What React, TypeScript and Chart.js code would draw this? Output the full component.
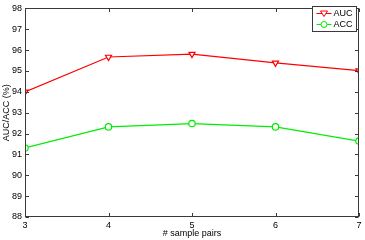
import React, { useEffect, useRef } from "react";
import { Chart, registerables } from "chart.js";

Chart.register(...registerables);

const samplePairs = [3, 4, 5, 6, 7];
const aucValues = [94.0, 95.67, 95.81, 95.39, 95.02];
const accValues = [91.31, 92.32, 92.48, 92.32, 91.64];
const yTicks = [88, 89, 90, 91, 92, 93, 94, 95, 96, 97, 98];
const xTitle = "# sample pairs";
const yTitle = "AUC/ACC (%)";
const seriesNames = ["AUC", "ACC"];

const FONT = "'Liberation Sans', Arial, sans-serif";

const framePlugin = {
  id: "frame",
  afterDatasetsDraw(chart: any) {
    const { ctx, chartArea: a, scales } = chart;
    const xs = scales.x;
    const ys = scales.y;
    ctx.save();
    ctx.strokeStyle = "#3a3a3a";
    ctx.lineWidth = 1;
    const L = Math.round(a.left) + 0.5;
    const R = Math.round(a.right) - 0.5;
    const T = Math.round(a.top) + 0.5;
    const B = Math.round(a.bottom) - 0.5;
    ctx.strokeRect(L, T, R - L, B - T);
    const tl = 3.5;
    ctx.beginPath();
    for (const v of yTicks) {
      const y = Math.round(ys.getPixelForValue(v)) + 0.5;
      ctx.moveTo(L, y);
      ctx.lineTo(L + tl, y);
      ctx.moveTo(R, y);
      ctx.lineTo(R - tl, y);
    }
    for (const v of samplePairs) {
      const x = Math.round(xs.getPixelForValue(v)) + 0.5;
      ctx.moveTo(x, B);
      ctx.lineTo(x, B - tl);
      ctx.moveTo(x, T);
      ctx.lineTo(x, T + tl);
    }
    ctx.stroke();

    // legend
    const bx = 312.5, by = 6.5, bw = 44, bh = 25;
    ctx.fillStyle = "#fff";
    ctx.fillRect(bx, by, bw, bh);
    ctx.strokeStyle = "#3a3a3a";
    ctx.strokeRect(bx, by, bw, bh);
    const items = chart.data.datasets;
    items.forEach((ds: any, i: number) => {
      const cy = by + 7 + i * 11;
      ctx.strokeStyle = ds.borderColor;
      ctx.lineWidth = 1;
      ctx.beginPath();
      ctx.moveTo(bx + 4, cy);
      ctx.lineTo(bx + 19, cy);
      ctx.stroke();
      ctx.beginPath();
      if (i === 0) {
        ctx.moveTo(bx + 11.5 - 3.5, cy - 2.5);
        ctx.lineTo(bx + 11.5 + 3.5, cy - 2.5);
        ctx.lineTo(bx + 11.5, cy + 3);
        ctx.closePath();
      } else {
        ctx.arc(bx + 11.5, cy, 3, 0, Math.PI * 2);
      }
      ctx.fillStyle = "#fff";
      ctx.fill();
      ctx.stroke();
      ctx.fillStyle = "#000";
      ctx.font = `9px ${FONT}`;
      ctx.textBaseline = "middle";
      ctx.textAlign = "left";
      ctx.fillText(ds.label, bx + 21, cy + 0.5);
    });
    ctx.restore();
  },
};

export default function App() {
  const ref = useRef<HTMLCanvasElement>(null);
  useEffect(() => {
    document.body.style.margin = "0";
    const chart = new Chart(ref.current as HTMLCanvasElement, {
      type: "line",
      data: {
        datasets: [
          {
            label: seriesNames[0],
            data: samplePairs.map((x, i) => ({ x, y: aucValues[i] })),
            borderColor: "#ff0000",
            backgroundColor: "#ffffff",
            borderWidth: 1.2,
            pointStyle: "triangle",
            rotation: 180,
            pointRadius: 3.5,
            pointBorderWidth: 1.2,
            tension: 0,
          },
          {
            label: seriesNames[1],
            data: samplePairs.map((x, i) => ({ x, y: accValues[i] })),
            borderColor: "#00ee00",
            backgroundColor: "#ffffff",
            borderWidth: 1.2,
            pointStyle: "circle",
            pointRadius: 3.2,
            pointBorderWidth: 1.2,
            tension: 0,
          },
        ],
      },
      options: {
        animation: false,
        responsive: false,
        maintainAspectRatio: false,
        devicePixelRatio: 1,
        layout: { padding: { top: 4, right: 6, left: 0, bottom: 0 } },
        plugins: { legend: { display: false }, tooltip: { enabled: false } },
        scales: {
          x: {
            type: "linear",
            min: 3,
            max: 7,
            grid: { display: false, drawTicks: false },
            border: { display: false },
            ticks: {
              stepSize: 1,
              padding: 3,
              color: "#000",
              font: { family: FONT, size: 9 },
              maxRotation: 0,
            },
            title: {
              display: true,
              text: xTitle,
              color: "#000",
              font: { family: FONT, size: 9 },
              padding: { top: 0, bottom: 1 },
            },
            afterFit(scale: any) {
              scale.height = 23;
            },
          },
          y: {
            min: 88,
            max: 98,
            grid: { display: false, drawTicks: false },
            border: { display: false },
            ticks: {
              stepSize: 1,
              padding: 3,
              color: "#000",
              font: { family: FONT, size: 9 },
            },
            title: {
              display: true,
              text: yTitle,
              color: "#000",
              font: { family: FONT, size: 9 },
              padding: { top: 1, bottom: 0 },
            },
            afterFit(scale: any) {
              scale.width = 25;
            },
          },
        },
      },
      plugins: [framePlugin],
    } as any);
    return () => chart.destroy();
  }, []);
  return (
    <div style={{ position: "absolute", left: 0, top: 0, width: 365, height: 240, background: "#fff" }}>
      <canvas ref={ref} width={365} height={240} style={{ width: 365, height: 240 }} />
    </div>
  );
}
